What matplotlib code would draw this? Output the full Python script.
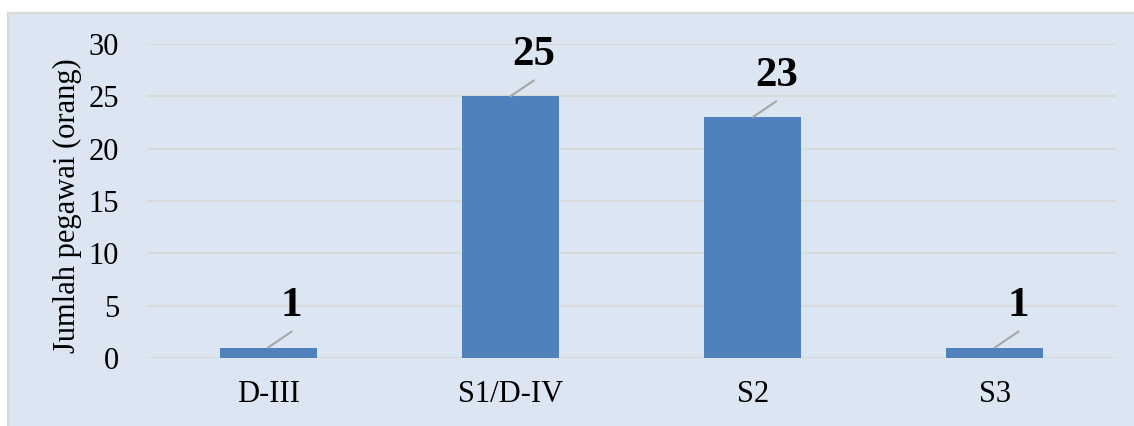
import matplotlib.pyplot as plt
from matplotlib.patches import Rectangle

# data
categories = ["D-III", "S1/D-IV", "S2", "S3"]
values = [1, 25, 23, 1]
y_ticks = [0, 5, 10, 15, 20, 25, 30]

bg = "#dce6f2"
bar_col = "#4f81bd"
grid_col = "#d9d9d9"

plt.rcParams['font.family'] = ['Liberation Serif', 'DejaVu Serif']

fig = plt.figure(figsize=(11.34, 4.26), dpi=100)
fig.patch.set_facecolor("white")
# chart area box, drawn behind the axes
box = Rectangle((8 / 1134, -0.01), 1.0, (426 - 13) / 426 + 0.01,
                transform=fig.transFigure, facecolor=bg,
                edgecolor=grid_col, linewidth=1.5, zorder=-10)
fig.add_artist(box)

ax = fig.add_axes([147 / 1134, (426 - 358) / 426, 969 / 1134, 314 / 426])
ax.set_facecolor("none")

x = range(len(categories))
ax.bar(x, values, width=0.4, color=bar_col, zorder=3)
ax.set_xlim(-0.5, len(categories) - 0.5)
ax.set_ylim(0, 30)
ax.set_yticks(y_ticks)
ax.set_xticks(list(x))
ax.set_xticklabels(categories)
ax.yaxis.grid(True, color=grid_col, linewidth=1.5, zorder=0)
ax.set_axisbelow(True)
for s in ax.spines.values():
    s.set_visible(False)
ax.tick_params(axis='both', length=0, labelsize=22)
ax.tick_params(axis='x', pad=16)
ax.tick_params(axis='y', pad=20)

ax.set_ylabel("Jumlah pegawai (orang)", fontsize=22)
ax.yaxis.set_label_coords(-0.067, 0.484)

# data labels with leader lines
for xi, v in zip(x, values):
    ax.annotate("", xy=(xi, v), xytext=(17, 11.5), textcoords="offset points",
                arrowprops=dict(arrowstyle="-", color="#a6a6a6", lw=1.5,
                                shrinkA=0, shrinkB=0))
    ax.annotate(str(v), xy=(xi, v), xytext=(17, 30), textcoords="offset points",
                ha="center", va="center", fontsize=31, fontweight="bold")

fig.savefig("out.png", dpi=100, facecolor=fig.get_facecolor())
